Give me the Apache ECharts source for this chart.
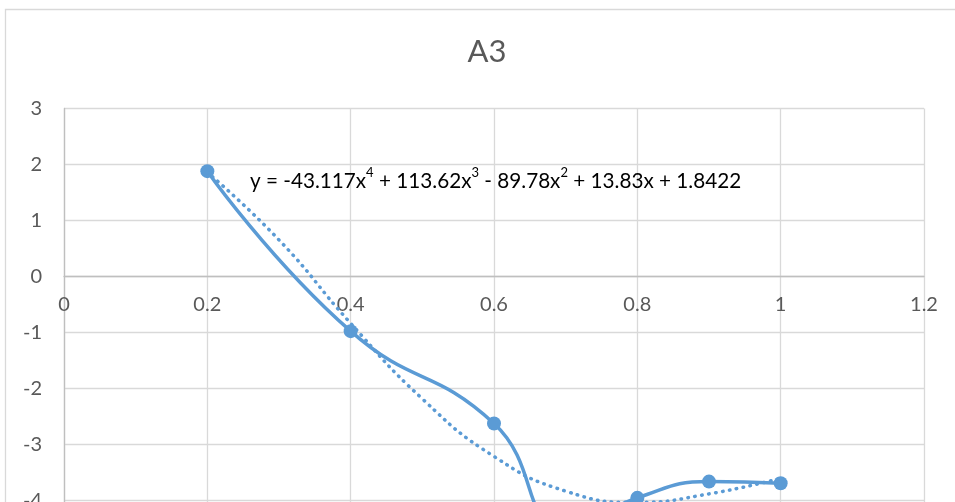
<!DOCTYPE html>
<html>
<head>
<meta charset="utf-8">
<script src="https://cdn.jsdelivr.net/npm/echarts@6/dist/echarts.min.js"></script>
<style>
  html, body { margin: 0; padding: 0; background: #ffffff; }
  #chart { width: 955px; height: 502px; }
</style>
</head>
<body>
<div id="chart"></div>
<script>
// ---- data ----
const chartTitle = 'A3';
const xValues = [0.2, 0.4, 0.6, 0.7, 0.8, 0.9, 1.0];
const yValues = [1.88, -0.98, -2.63, -4.51, -3.96, -3.67, -3.70];
const trendX = [0.2, 0.3, 0.4, 0.5, 0.6, 0.7, 0.8, 0.9, 1.0];
const trendY = [1.86, 0.65, -0.84, -2.19, -3.22, -3.84, -4.04, -3.89, -3.61];
const xTicks = { min: 0, max: 1.2, interval: 0.2 };
const yTicks = { min: -5, max: 3, interval: 1 };
const equationParts = [
  ['y = -43.117x', 'n'], ['4', 's'], [' + 113.62x', 'n'], ['3', 's'],
  [' - 89.78x', 'n'], ['2', 's'], [' + 13.83x + 1.8422', 'n']
];

const seriesData = xValues.map((x, i) => [x, yValues[i]]);
const trendData = trendX.map((x, i) => [x, trendY[i]]);
const eqText = equationParts.map(p => '{' + p[1] + '|' + p[0] + '}').join('');

const FONT = 'Lato, "Open Sans", sans-serif';
const TXT = '#595959';
const BLUE = '#5b9bd5';

const chart = echarts.init(document.getElementById('chart'), null, { renderer: 'canvas' });
chart.setOption({
  animation: false,
  backgroundColor: '#ffffff',
  title: {
    text: chartTitle,
    left: 482,
    top: 31,
    textAlign: 'center',
    textStyle: { color: TXT, fontFamily: FONT, fontSize: 31, fontWeight: 'normal' }
  },
  grid: { left: 64, top: 108.5, width: 860, height: 447.5, containLabel: false, outerBoundsMode: 'none' },
  xAxis: {
    type: 'value',
    min: xTicks.min, max: xTicks.max, interval: xTicks.interval,
    axisLine: { show: true, onZero: true, lineStyle: { color: '#bfbfbf', width: 1.3 } },
    axisTick: { show: false },
    axisLabel: {
      color: TXT, fontFamily: FONT, fontSize: 20, margin: -261,
      showMinLabel: true, showMaxLabel: true,
      formatter: v => String(+v.toFixed(1))
    },
    splitLine: { show: true, lineStyle: { color: '#d9d9d9', width: 1.3 } }
  },
  yAxis: {
    type: 'value',
    min: yTicks.min, max: yTicks.max, interval: yTicks.interval,
    axisLine: { show: true, lineStyle: { color: '#bfbfbf', width: 1.3 } },
    axisTick: { show: false },
    axisLabel: { color: TXT, fontFamily: FONT, fontSize: 20, margin: 22 },
    splitLine: { show: true, lineStyle: { color: '#d9d9d9', width: 1.3 } }
  },
  series: [
    {
      name: 'A3',
      type: 'line',
      data: seriesData,
      smooth: 0.5,
      symbol: 'circle',
      symbolSize: 14,
      itemStyle: { color: BLUE },
      lineStyle: { color: BLUE, width: 3.5 },
      z: 3
    },
    {
      name: 'Trendline',
      type: 'line',
      data: trendData,
      smooth: 0.5,
      showSymbol: false,
      lineStyle: { color: BLUE, width: 3.5, type: [0.5, 6.5], cap: 'round' },
      z: 4
    }
  ],
  graphic: [
    {
      type: 'rect',
      shape: { x: 5.5, y: 9.5, width: 1200, height: 800 },
      style: { fill: 'none', stroke: '#d9d9d9', lineWidth: 1.3 },
      silent: true, z: -10
    },
    {
      type: 'text',
      x: 250, y: 179,
      style: {
        text: eqText,
        verticalAlign: 'middle',
        rich: {
          n: { fontFamily: FONT, fontSize: 20.7, color: TXT, lineHeight: 26, verticalAlign: 'bottom' },
          s: { fontFamily: FONT, fontSize: 13, color: TXT, lineHeight: 26, verticalAlign: 'top' }
        }
      },
      z: 10
    }
  ]
});
</script>
</body>
</html>
